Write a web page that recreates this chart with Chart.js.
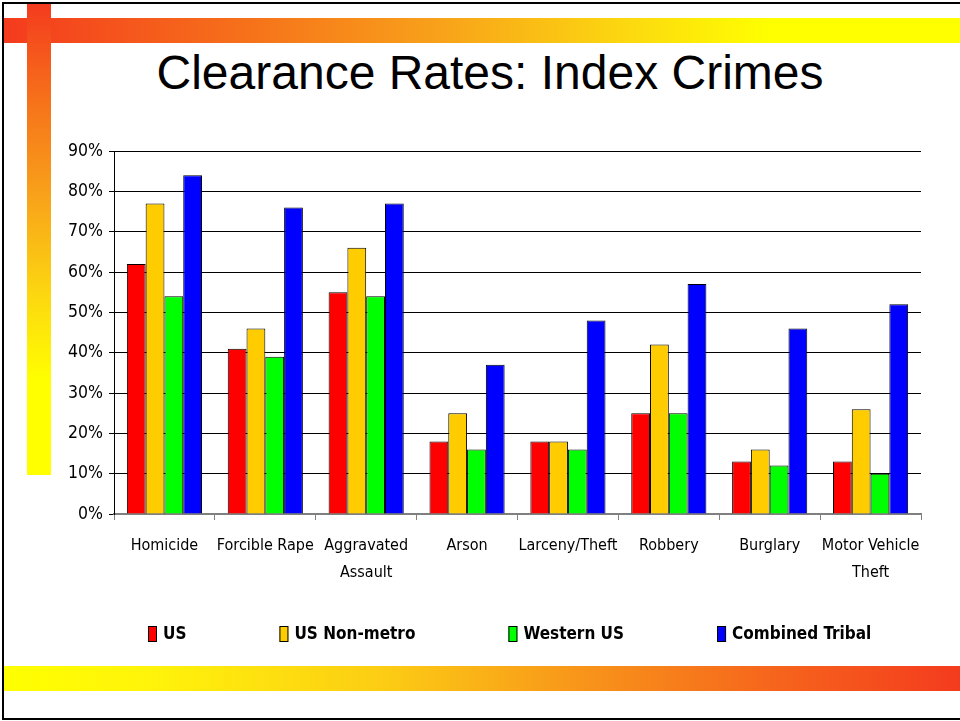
<!DOCTYPE html>
<html>
<head>
<meta charset="utf-8">
<script src="https://cdn.jsdelivr.net/npm/chart.js@4.4.1/dist/chart.umd.min.js"></script>
<style>
  html, body { margin: 0; padding: 0; background: #fff; }
  body { width: 960px; height: 721px; position: relative; overflow: hidden; }
  .frame { position: absolute; left: 2px; top: 2px; width: 962px; height: 714px; border: 2px solid #000; box-sizing: content-box; }
  .topbar { position: absolute; left: 4px; top: 18px; width: 956px; height: 25px;
    background: linear-gradient(to right, #F43B1E 0%, #F6701A 25%, #F8A01A 45%, #FCD810 65%, #FFFF00 80%, #FFFF00 100%); }
  .vbar { position: absolute; left: 27px; top: 4px; width: 24px; height: 471px;
    background: linear-gradient(to bottom, #F43B1E 0%, #F6701A 20%, #F8A01A 40%, #FCD810 62%, #FFFF00 80%, #FFFF00 100%); }
  .botbar { position: absolute; left: 4px; top: 666px; width: 956px; height: 25px;
    background: linear-gradient(to right, #FFFF00 0%, #FFF40A 15%, #FCCC14 40%, #F8961A 60%, #F6661C 80%, #F43B1E 100%); }
  .title { position: absolute; left: 0; top: 49px; width: 980px; text-align: center;
    font-family: "Liberation Sans", Arial, sans-serif; font-size: 48px; line-height: 48px; color: #000; white-space: nowrap; }
  canvas { position: absolute; left: 0; top: 0; }
</style>
</head>
<body>
<div class="frame"></div>
<div class="topbar"></div>
<div class="vbar"></div>
<div class="botbar"></div>
<div class="title">Clearance Rates: Index Crimes</div>
<canvas id="c" width="960" height="721"></canvas>
<script>
// ---- data ----
const categories = ['Homicide', 'Forcible Rape', ['Aggravated', 'Assault'], 'Arson', 'Larceny/Theft', 'Robbery', 'Burglary', ['Motor Vehicle', 'Theft']];
const seriesNames = ['US', 'US Non-metro', 'Western US', 'Combined Tribal'];
const usValues       = [62, 41, 55, 18, 18, 25, 13, 13];
const nonMetroValues = [77, 46, 66, 25, 18, 42, 16, 26];
const westernValues  = [54, 39, 54, 16, 16, 25, 12, 10];
const tribalValues   = [84, 76, 77, 37, 48, 57, 46, 52];
const yTickValues = [0, 10, 20, 30, 40, 50, 60, 70, 80, 90];

// ---- font selection (condensed look) ----
function hasFont(name) {
  const c = document.createElement('canvas').getContext('2d');
  const t = 'Homicide Forcible Rape 90%';
  c.font = '20px monospace';
  const a = c.measureText(t).width;
  c.font = '20px "' + name + '", monospace';
  const b = c.measureText(t).width;
  return Math.abs(a - b) > 0.5;
}
let FAMILY = '"Liberation Sans", Arial, sans-serif';
if (hasFont('Liberation Sans Narrow')) FAMILY = '"Liberation Sans Narrow", "Liberation Sans", sans-serif';
else if (hasFont('DejaVu Sans Condensed')) FAMILY = '"DejaVu Sans Condensed", "Liberation Sans", sans-serif';

function sizeFor(text, targetWidth, weight, maxSize) {
  const c = document.createElement('canvas').getContext('2d');
  c.font = (weight || 'normal') + ' 100px ' + FAMILY;
  const w = c.measureText(text).width;
  return Math.min(maxSize, Math.round(100 * targetWidth / w * 2) / 2);
}
const tickSize = sizeFor('Homicide', 67, 'normal', 20);
const ySize = sizeFor('90%', 35, 'normal', 20);
const legendSize = sizeFor('Combined Tribal', 140, 'bold', 22);

const colors = ['#FF0000', '#FFCC00', '#00FF00', '#0000FF'];
const valueSets = [usValues, nonMetroValues, westernValues, tribalValues];

// Legend drawn by a small plugin so its spacing can match the slide
const slideLegend = {
  id: 'slideLegend',
  afterDraw(chart, args, opts) {
    const ctx = chart.ctx;
    ctx.save();
    ctx.font = 'bold ' + legendSize + 'px ' + FAMILY;
    const items = chart.data.datasets.map(ds => ({
      text: ds.label, fill: ds.backgroundColor, stroke: ds.borderColor,
      w: ctx.measureText(ds.label).width
    }));
    const bw = opts.boxWidth, bh = opts.boxHeight, g = opts.boxGap, pad = opts.itemGap;
    const total = items.reduce((s, it) => s + bw + g + it.w, 0) + pad * (items.length - 1);
    let x = Math.round(opts.centerX - total / 2);
    const y = opts.centerY;
    items.forEach(it => {
      const top = Math.round(y - bh / 2);
      ctx.fillStyle = it.fill;
      ctx.fillRect(x, top, bw, bh);
      ctx.strokeStyle = it.stroke;
      ctx.lineWidth = 1;
      ctx.strokeRect(x + 0.5, top + 0.5, bw - 1, bh - 1);
      ctx.fillStyle = '#000';
      ctx.textBaseline = 'middle';
      ctx.textAlign = 'left';
      ctx.fillText(it.text, x + bw + g, y + 1);
      x += bw + g + it.w + pad;
    });
    ctx.restore();
  }
};

new Chart(document.getElementById('c'), {
  type: 'bar',
  data: {
    labels: categories,
    datasets: seriesNames.map((n, i) => ({
      label: n,
      data: valueSets[i],
      backgroundColor: colors[i],
      borderColor: '#000000',
      borderWidth: 1,
      categoryPercentage: 0.745,
      barPercentage: 1.0
    }))
  },
  plugins: [slideLegend],
  options: {
    responsive: false,
    animation: false,
    devicePixelRatio: 1,
    layout: { padding: { left: 10, right: 39, top: 151, bottom: 127 } },
    plugins: {
      title: { display: false },
      tooltip: { enabled: false },
      legend: { display: false },
      slideLegend: { centerX: 510, centerY: 634, boxWidth: 9, boxHeight: 16, boxGap: 6, itemGap: 93 }
    },
    scales: {
      x: {
        grid: { display: true, drawOnChartArea: false, drawTicks: true, tickLength: 6, color: '#808080', lineWidth: 1, offset: true },
        border: { display: true, color: '#808080', width: 2 },
        ticks: {
          color: '#000',
          padding: 12,
          maxRotation: 0,
          minRotation: 0,
          autoSkip: false,
          font: { family: FAMILY, size: tickSize, lineHeight: '27.5px' }
        },
        afterFit(scale) { scale.height = 80; }
      },
      y: {
        min: 0,
        max: 90,
        afterBuildTicks(scale) { scale.ticks = yTickValues.map(v => ({ value: v })); },
        grid: { color: '#000', lineWidth: 1, drawTicks: true, tickLength: 5 },
        border: { display: true, color: '#000', width: 1 },
        ticks: {
          color: '#000',
          padding: 6,
          font: { family: FAMILY, size: ySize },
          callback: v => v + '%'
        },
        afterFit(scale) { scale.width = 104; }
      }
    }
  }
});
</script>
</body>
</html>
